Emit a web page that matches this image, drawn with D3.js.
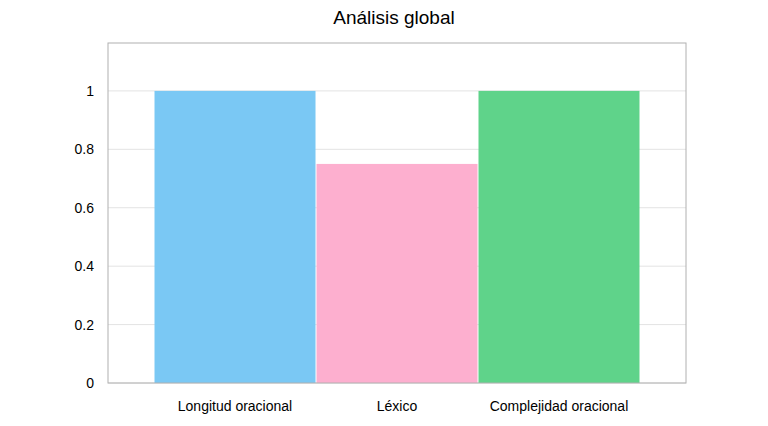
<!DOCTYPE html><html><head><meta charset="utf-8"><script src="https://cdn.jsdelivr.net/npm/d3@7"></script>
<style>body{margin:0;background:#fff}text{font-family:"Liberation Sans",Arial,sans-serif}</style></head><body><svg id="c" width="768" height="426"></svg>
<script>
const categories=["Longitud oracional","Léxico","Complejidad oracional"];
const values=[1,0.75,1];
const colors=["#7AC8F4","#FDAFCF","#5FD38A"];
const yTicks=[0,0.2,0.4,0.6,0.8,1];
const svg=d3.select("#c");
const L=108,R=686,T=43,B=383;
const x=d3.scaleBand().domain(categories).range([L,R]).paddingInner(0).paddingOuter(0.284);
const y=d3.scaleLinear().domain([0,1.164]).range([B,T]);
svg.append("text").attr("x",394).attr("y",24).attr("text-anchor","middle").attr("font-size",19).text("Análisis global");
svg.selectAll(".g").data(yTicks).enter().append("line").attr("x1",L).attr("x2",R).attr("y1",d=>y(d)).attr("y2",d=>y(d)).attr("stroke","#e3e3e3");
svg.selectAll(".b").data(values).enter().append("rect").attr("x",(d,i)=>x(categories[i])+0.5).attr("width",x.bandwidth()-1).attr("y",d=>y(d)).attr("height",d=>B-y(d)).attr("fill",(d,i)=>colors[i]);
svg.append("rect").attr("x",L).attr("y",T).attr("width",R-L).attr("height",B-T).attr("fill","none").attr("stroke","#b0b0b0");
svg.selectAll(".yt").data(yTicks).enter().append("text").attr("x",94).attr("y",d=>y(d)+5).attr("text-anchor","end").attr("font-size",14).text(d=>d);
svg.selectAll(".xt").data(categories).enter().append("text").attr("x",d=>x(d)+x.bandwidth()/2).attr("y",411).attr("text-anchor","middle").attr("font-size",14).text(d=>d);
</script></body></html>
